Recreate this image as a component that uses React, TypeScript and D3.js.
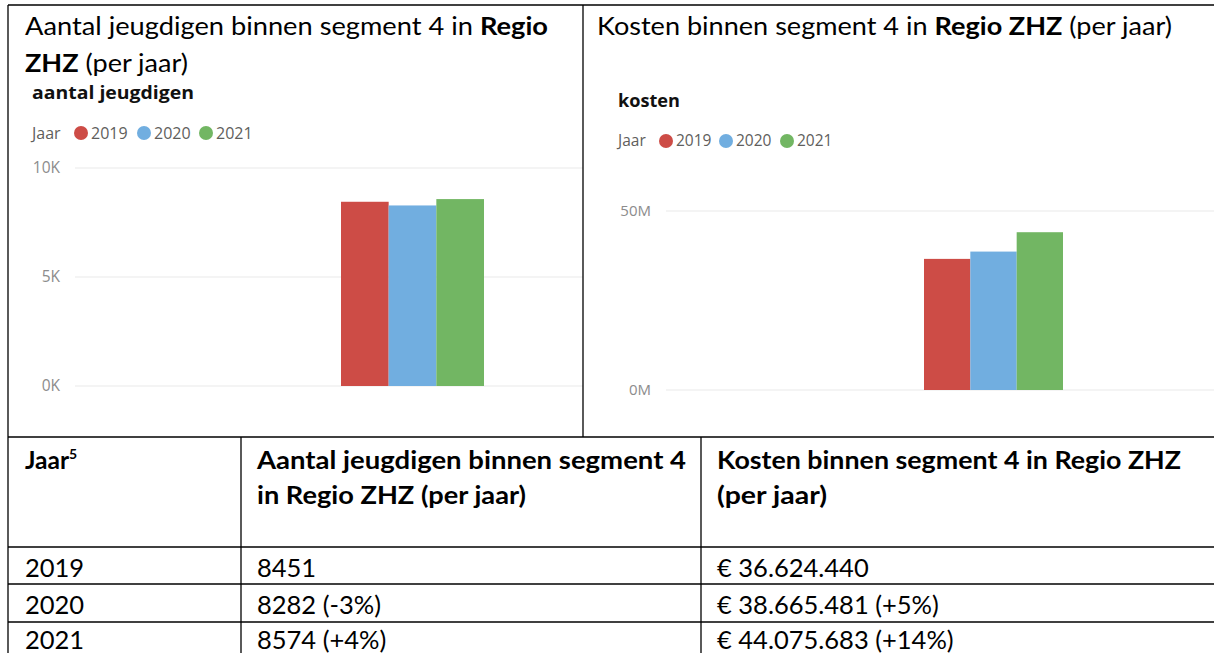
import React from "react";
import * as d3 from "d3";

const years = ["2019", "2020", "2021"];
const aantal = [8451, 8282, 8574];
const kosten = [36624440, 38665481, 44075683];
const aantalTicks = [0, 5000, 10000];
const kostenTicks = [0, 50000000];
const yearColors = ["#CD4C46", "#71AEE0", "#72B663"];

const aantalLabels = ["8451", "8282 (-3%)", "8574 (+4%)"];
const kostenLabels = ["€ 36.624.440", "€ 38.665.481 (+5%)", "€ 44.075.683 (+14%)"];

const DOC_FONT = "Lato, 'Liberation Sans', sans-serif";
const PBI_FONT = "'Open Sans', 'Noto Sans', sans-serif";

type ChartProps = {
  title: string;
  titleX: number;
  titleY: number;
  titleLen: number;
  legendY: number;
  legendX: number;
  legendDots: number[];
  values: number[];
  ticks: number[];
  fmt: (v: number) => string;
  yDomainMax: number;
  yRange: [number, number];
  barRange: [number, number];
  gridX: [number, number];
  labelX: number;
  fontSize: number;
};

function BarChart(p: ChartProps) {
  const y = d3.scaleLinear().domain([0, p.yDomainMax]).range(p.yRange);
  const x = d3.scaleBand<string>().domain(years).range(p.barRange).padding(0);
  return (
    <g>
      <text x={p.titleX} y={p.titleY} fontFamily={PBI_FONT} fontWeight={700} fontSize={18.5} fill="#111" textLength={p.titleLen} lengthAdjust="spacingAndGlyphs">
        {p.title}
      </text>
      <text x={p.legendX} y={p.legendY} dy="0.35em" fontFamily={PBI_FONT} fontSize={p.fontSize} fill="#605E5C">Jaar</text>
      {years.map((yr, i) => (
        <g key={yr}>
          <circle cx={p.legendDots[i]} cy={p.legendY} r={7} fill={yearColors[i]} />
          <text x={p.legendDots[i] + 10} y={p.legendY} dy="0.35em" fontFamily={PBI_FONT} fontSize={p.fontSize} fill="#605E5C">{yr}</text>
        </g>
      ))}
      {p.ticks.map((t) => (
        <g key={t}>
          <line x1={p.gridX[0]} x2={p.gridX[1]} y1={y(t)} y2={y(t)} stroke="#E9E9E9" strokeWidth={1.2} />
          <text x={p.labelX} y={y(t)} dy="0.35em" textAnchor="end" fontFamily={PBI_FONT} fontSize={p.fontSize - 0.5} fill="#8C8C8C">{p.fmt(t)}</text>
        </g>
      ))}
      {years.map((yr, i) => (
        <rect key={yr} x={x(yr)} y={y(p.values[i])} width={x.bandwidth()} height={y(0) - y(p.values[i])} fill={yearColors[i]} />
      ))}
    </g>
  );
}

export default function App() {
  const W = 1214;
  const H = 653;
  const rowBase = [577, 614, 649];
  return (
    <div style={{ position: "absolute", left: 0, top: 0 }}>
      <svg width={W} height={H} style={{ display: "block", background: "#fff" }}>
        <rect x={0} y={0} width={W} height={H} fill="#fff" />
        {/* document titles */}
        <text x={25} y={35} fontFamily={DOC_FONT} fontSize={25.5} fill="#000" textLength={523} lengthAdjust="spacingAndGlyphs">
          Aantal jeugdigen binnen segment 4 in <tspan fontWeight={700}>Regio</tspan>
        </text>
        <text x={25} y={72} fontFamily={DOC_FONT} fontSize={25.5} fill="#000" textLength={163} lengthAdjust="spacingAndGlyphs">
          <tspan fontWeight={700}>ZHZ</tspan> (per jaar)
        </text>
        <text x={597} y={35} fontFamily={DOC_FONT} fontSize={25.5} fill="#000" textLength={575} lengthAdjust="spacingAndGlyphs">
          Kosten binnen segment 4 in <tspan fontWeight={700}>Regio ZHZ</tspan> (per jaar)
        </text>

        <BarChart
          title="aantal jeugdigen"
          titleX={32}
          titleY={99}
          titleLen={162}
          legendX={32}
          legendY={133}
          legendDots={[81, 144, 206]}
          values={aantal}
          ticks={aantalTicks}
          fmt={(v) => `${v / 1000}K`}
          yDomainMax={10000}
          yRange={[386, 168]}
          barRange={[341, 484]}
          gridX={[75, 583]}
          labelX={60}
          fontSize={16}
        />
        <BarChart
          title="kosten"
          titleX={618}
          titleY={107}
          titleLen={62}
          legendX={618}
          legendY={141}
          legendDots={[666, 726, 787]}
          values={kosten}
          ticks={kostenTicks}
          fmt={(v) => `${v / 1000000}M`}
          yDomainMax={50000000}
          yRange={[390, 211]}
          barRange={[924, 1063]}
          gridX={[666, W]}
          labelX={651}
          fontSize={15.5}
        />

        {/* table borders */}
        <g stroke="#000" strokeWidth={1.3}>
          <line x1={8} x2={W} y1={5} y2={5} />
          <line x1={8} x2={8} y1={5} y2={H} />
          <line x1={583} x2={583} y1={5} y2={437} />
          <line x1={8} x2={W} y1={437} y2={437} />
          <line x1={241} x2={241} y1={437} y2={H} />
          <line x1={701} x2={701} y1={437} y2={H} />
          <line x1={8} x2={W} y1={547} y2={547} />
          <line x1={8} x2={W} y1={584} y2={584} />
          <line x1={8} x2={W} y1={622} y2={622} />
        </g>

        {/* table header */}
        <text x={25} y={469} fontFamily={DOC_FONT} fontSize={24.5} fontWeight={700} fill="#000">
          Jaar<tspan fontSize={14} dy={-10}>5</tspan>
        </text>
        <text x={257} y={469} fontFamily={DOC_FONT} fontSize={24.5} fontWeight={700} fill="#000" textLength={429} lengthAdjust="spacingAndGlyphs">
          Aantal jeugdigen binnen segment 4
        </text>
        <text x={257} y={504} fontFamily={DOC_FONT} fontSize={24.5} fontWeight={700} fill="#000" textLength={269} lengthAdjust="spacingAndGlyphs">
          in Regio ZHZ (per jaar)
        </text>
        <text x={717} y={469} fontFamily={DOC_FONT} fontSize={24.5} fontWeight={700} fill="#000" textLength={464} lengthAdjust="spacingAndGlyphs">
          Kosten binnen segment 4 in Regio ZHZ
        </text>
        <text x={717} y={504} fontFamily={DOC_FONT} fontSize={24.5} fontWeight={700} fill="#000" textLength={110} lengthAdjust="spacingAndGlyphs">
          (per jaar)
        </text>

        {/* table rows */}
        {years.map((yr, i) => (
          <g key={yr} fontFamily={DOC_FONT} fontSize={25.5} fill="#000">
            <text x={25} y={rowBase[i]}>{yr}</text>
            <text x={257} y={rowBase[i]}>{aantalLabels[i]}</text>
            <text x={717} y={rowBase[i]}>{kostenLabels[i]}</text>
          </g>
        ))}
      </svg>
    </div>
  );
}
